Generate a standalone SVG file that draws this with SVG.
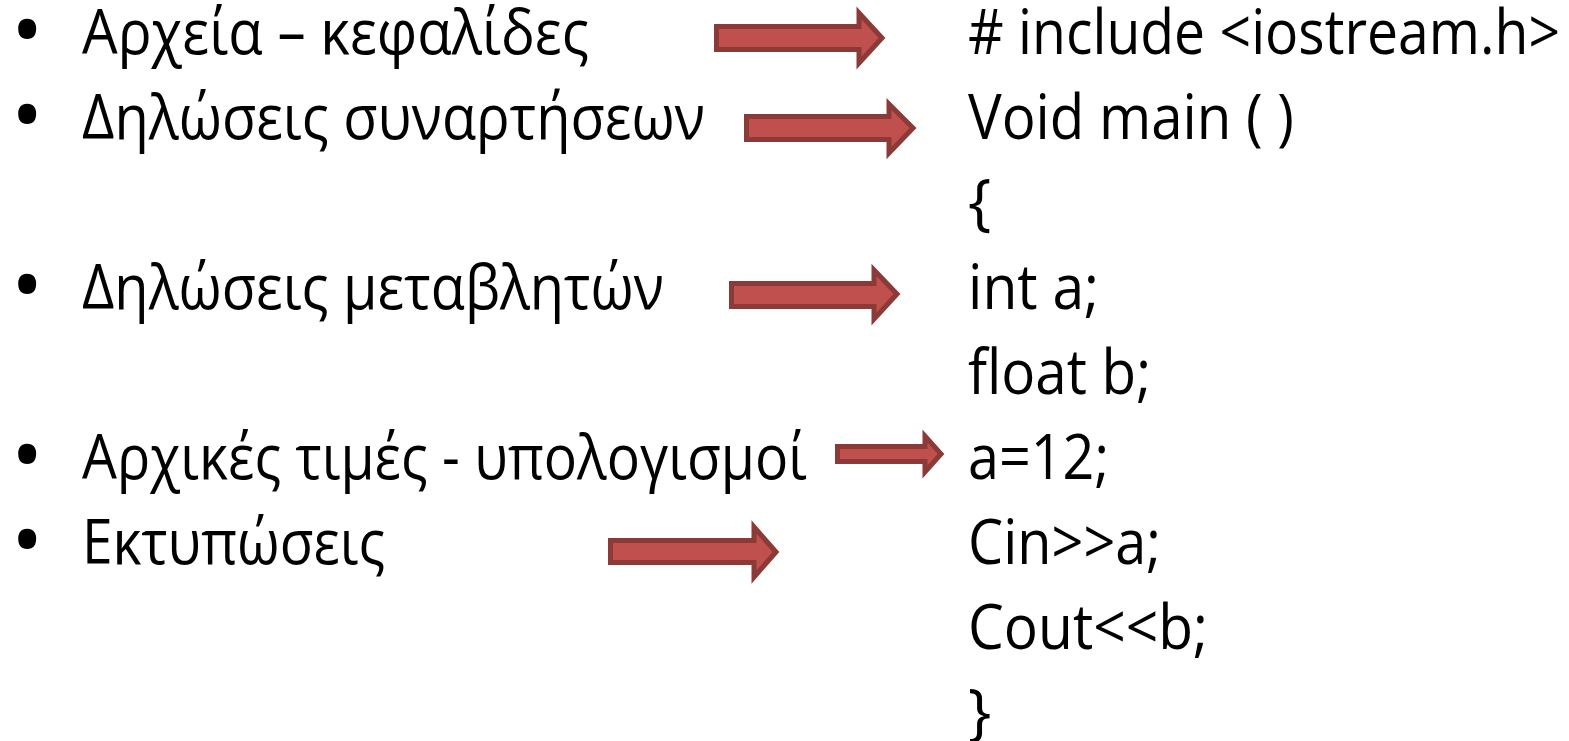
<svg xmlns="http://www.w3.org/2000/svg" width="1569" height="741" viewBox="0 0 1569 741">
<style>
.t{font-family:"Open Sans","Noto Sans","DejaVu Sans",sans-serif;font-size:62px;fill:#000}
.b{font-family:"Open Sans","Noto Sans","DejaVu Sans",sans-serif;font-size:86px;fill:#000}
.arr{fill:#c0504d;stroke:#8c3a38;stroke-width:5;stroke-linejoin:miter}
</style>
<rect width="1569" height="741" fill="#fff"/>
<g id="left">
<g id="item1"><text class="b" x="11" y="60">•</text><text class="t" x="82" y="54" textLength="507" lengthAdjust="spacingAndGlyphs">Αρχεία – κεφαλίδες</text></g>
<g id="item2"><text class="b" x="11" y="145">•</text><text class="t" x="82" y="139" textLength="623" lengthAdjust="spacingAndGlyphs">Δηλώσεις συναρτήσεων</text></g>
<g id="item3"><text class="b" x="11" y="315">•</text><text class="t" x="82" y="309" textLength="582" lengthAdjust="spacingAndGlyphs">Δηλώσεις μεταβλητών</text></g>
<g id="item4"><text class="b" x="11" y="485">•</text><text class="t" x="82" y="479" textLength="725" lengthAdjust="spacingAndGlyphs">Αρχικές τιμές - υπολογισμοί</text></g>
<g id="item5"><text class="b" x="11" y="570">•</text><text class="t" x="82" y="564" textLength="303" lengthAdjust="spacingAndGlyphs">Εκτυπώσεις</text></g>
</g>
<g id="code">
<text class="t" x="968" y="54" textLength="592" lengthAdjust="spacingAndGlyphs"># include &lt;iostream.h&gt;</text>
<text class="t" x="968" y="139" textLength="326" lengthAdjust="spacingAndGlyphs">Void main ( )</text>
<text class="t" x="968" y="224">{</text>
<text class="t" x="968" y="309" textLength="131" lengthAdjust="spacingAndGlyphs">int a;</text>
<text class="t" x="968" y="394" textLength="183" lengthAdjust="spacingAndGlyphs">float b;</text>
<text class="t" x="968" y="479" textLength="141" lengthAdjust="spacingAndGlyphs">a=12;</text>
<text class="t" x="968" y="564" textLength="193" lengthAdjust="spacingAndGlyphs">Cin&gt;&gt;a;</text>
<text class="t" x="968" y="649" textLength="240" lengthAdjust="spacingAndGlyphs">Cout&lt;&lt;b;</text>
<text class="t" x="968" y="734">}</text>
</g>
<g id="connectors">
<path class="arr" d="M716.5,26.5 H859 V13 L882,38 L859,63 V49.5 H716.5 Z"/>
<path class="arr" d="M746.5,116.5 H889 V104 L913,128 L889,153 V139.5 H746.5 Z"/>
<path class="arr" d="M731.5,283.5 H874 V270 L897,294 L874,319 V306.5 H731.5 Z"/>
<path class="arr" d="M837.5,446.5 H925 V436 L941,454 L925,472 V461.5 H837.5 Z"/>
<path class="arr" d="M610.5,540.5 H754 V527 L776,552 L754,577 V562.5 H610.5 Z"/>
</g>
</svg>
